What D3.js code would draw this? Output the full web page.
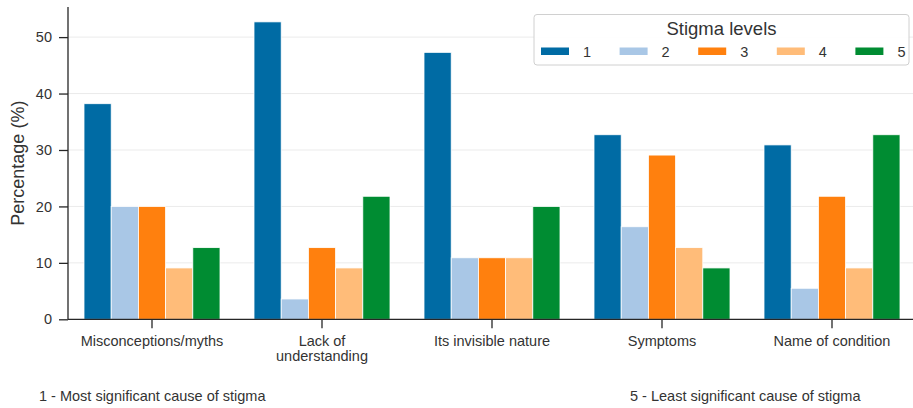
<!DOCTYPE html>
<html>
<head>
<meta charset="utf-8">
<script src="https://cdn.jsdelivr.net/npm/d3@7"></script>
<style>
  html, body { margin: 0; padding: 0; background: #fff; }
  svg { display: block; font-family: "Liberation Sans", Arial, sans-serif; }
</style>
</head>
<body>
<svg id="chart" width="913" height="408"></svg>
<script>
// ---- data ----
const categories = ["Misconceptions/myths", "Lack of\nunderstanding", "Its invisible nature", "Symptoms", "Name of condition"];
const levels = ["1", "2", "3", "4", "5"];
const level1 = [38.2, 52.7, 47.3, 32.7, 30.9];
const level2 = [20.0, 3.6, 10.9, 16.4, 5.5];
const level3 = [20.0, 12.7, 10.9, 29.1, 21.8];
const level4 = [9.1, 9.1, 10.9, 12.7, 9.1];
const level5 = [12.7, 21.8, 20.0, 9.1, 32.7];
const yTicks = [0, 10, 20, 30, 40, 50];
const colors = ["#006BA4", "#A9C7E6", "#FF800E", "#FFBC79", "#008C32"];
const yLabel = "Percentage (%)";
const legendTitle = "Stigma levels";
const noteLeft = "1 - Most significant cause of stigma";
const noteRight = "5 - Least significant cause of stigma";

const seriesValues = [level1, level2, level3, level4, level5];

const svg = d3.select("#chart");
const textColor = "#262626";
const plotLeft = 68, plotRight = 913, plotTop = 7, plotBottom = 319.3;

const yMax = d3.max(seriesValues.flat()) * 1.05;
const y = d3.scaleLinear().domain([0, yMax]).range([plotBottom, plotTop]);
const x = d3.scaleBand().domain(categories).range([67, 917]).paddingInner(0.2).paddingOuter(0.1);
const xs = d3.scaleBand().domain(levels).range([0, x.bandwidth()]).padding(0);

// gridlines
svg.append("g").selectAll("line").data(yTicks.filter(d => d > 0)).join("line")
  .attr("x1", plotLeft).attr("x2", plotRight)
  .attr("y1", d => y(d)).attr("y2", d => y(d))
  .attr("stroke", "#ebebeb").attr("stroke-width", 1);

// bars
const groups = svg.append("g").selectAll("g").data(levels).join("g")
  .attr("fill", (d, i) => colors[i]);
groups.selectAll("rect").data((lv, i) => categories.map((c, j) => ({c, lv, v: seriesValues[i][j]})))
  .join("rect")
  .attr("x", d => x(d.c) + xs(d.lv))
  .attr("width", xs.bandwidth())
  .attr("y", d => y(d.v))
  .attr("height", d => y(0) - y(d.v))
  .attr("stroke", "#ffffff").attr("stroke-width", 0.8);

// y axis
const yAxis = svg.append("g").attr("transform", `translate(${plotLeft},0)`)
  .call(d3.axisLeft(y).tickValues(yTicks).tickSize(9).tickPadding(7).tickSizeOuter(0));
yAxis.select(".domain").attr("d", `M0,${plotTop}V${plotBottom}`).attr("stroke", textColor).attr("stroke-width", 1.3);
yAxis.selectAll(".tick line").attr("stroke", textColor).attr("stroke-width", 1.3);
yAxis.selectAll(".tick text").attr("fill", "#333").style("font-size", "14.5px");

// x axis
const xAxis = svg.append("g").attr("transform", `translate(0,${plotBottom})`)
  .call(d3.axisBottom(x).tickSize(9).tickSizeOuter(0).tickFormat(""));
xAxis.select(".domain").attr("d", `M${plotLeft},0H${plotRight}`).attr("stroke", textColor).attr("stroke-width", 1.3);
xAxis.selectAll(".tick line").attr("stroke", textColor).attr("stroke-width", 1.3);
xAxis.selectAll(".tick").each(function(d) {
  const t = d3.select(this).append("text").attr("fill", "#333").attr("text-anchor", "middle")
    .style("font-size", "14.5px");
  d.split("\n").forEach((line, k) => {
    t.append("tspan").attr("x", 0).attr("y", 27 + k * 15).text(line);
  });
});

// y label
svg.append("text")
  .attr("transform", `translate(24,${(plotTop + plotBottom) / 2}) rotate(-90)`)
  .attr("text-anchor", "middle").attr("fill", "#333").style("font-size", "18px")
  .text(yLabel);

// legend
const lg = svg.append("g");
lg.append("rect").attr("x", 534).attr("y", 14.5).attr("width", 375).attr("height", 50.5)
  .attr("rx", 3).attr("fill", "#fff").attr("fill-opacity", 0.9)
  .attr("stroke", "#d0d0d0").attr("stroke-width", 1);
lg.append("text").attr("x", 721.5).attr("y", 35).attr("text-anchor", "middle")
  .attr("fill", "#333").style("font-size", "18.5px").text(legendTitle);
const items = lg.selectAll("g.item").data(levels).join("g").attr("class", "item")
  .attr("transform", (d, i) => `translate(${541 + i * 78.6},0)`);
items.append("rect").attr("x", 0).attr("y", 47.5).attr("width", 28).attr("height", 7.5)
  .attr("fill", (d, i) => colors[i]);
items.append("text").attr("x", 42).attr("y", 56.5).attr("fill", "#333")
  .style("font-size", "14.5px").text(d => d);

// notes
svg.append("text").attr("x", 39).attr("y", 401).attr("fill", "#333").style("font-size", "14.5px").text(noteLeft);
svg.append("text").attr("x", 630).attr("y", 401).attr("fill", "#333").style("font-size", "14.5px").text(noteRight);
</script>
</body>
</html>
